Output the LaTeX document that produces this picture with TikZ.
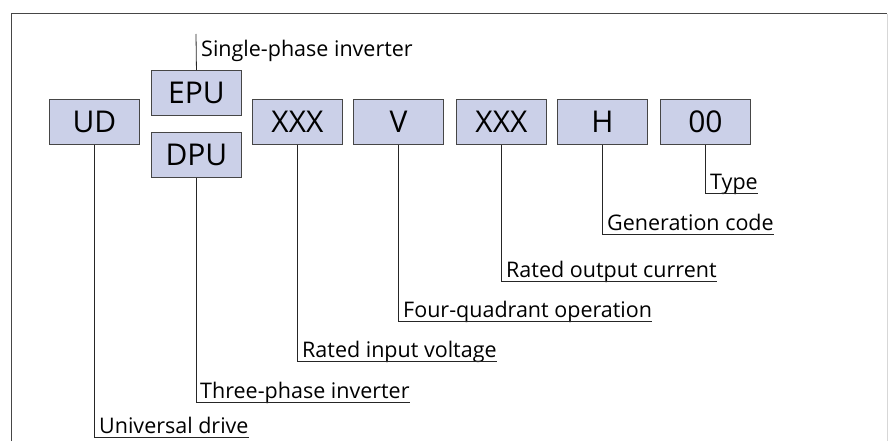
\documentclass[tikz,border=0pt]{standalone}
\usepackage{fontspec}
\setmainfont{Open Sans}
\definecolor{boxfill}{RGB}{203,208,232}
\definecolor{boxline}{RGB}{70,70,70}
\definecolor{frameline}{RGB}{70,70,70}
\definecolor{frameright}{RGB}{215,215,215}
\begin{document}
\begin{tikzpicture}[x=1pt,y=-1pt,
  codebox/.style={draw=boxline, line width=0.9pt, fill=boxfill, minimum width=90pt, minimum height=45pt, inner sep=0pt, font=\fontsize{30}{32}\selectfont, anchor=north west},
  lbl/.style={anchor=south west, inner xsep=0pt, inner ysep=3pt, text depth=0pt, font=\fontsize{21.5}{23}\selectfont, text=black},
  conn/.style={draw=black!85, line width=0.8pt}]
\useasboundingbox (0,0) rectangle (890,441);
\draw[frameline, line width=1pt] (11,441) -- (11,14) -- (887,14);
\draw[frameright, line width=1pt] (887,14) -- (887,441);
\node[codebox] (ud) at (49,99) {UD};
\node[codebox] (epu) at (151,70) {EPU};
\node[codebox] (dpu) at (151,132) {DPU};
\node[codebox] (xa) at (252,99) {XXX};
\node[codebox] (v) at (353,99) {V};
\node[codebox] (xb) at (456,99) {XXX};
\node[codebox] (h) at (557,99) {H};
\node[codebox] (oo) at (660,99) {00};
\coordinate (ct) at (196,34);
\node[lbl, anchor=base west] (lsp) at (201,57) {Single-phase inverter};
\draw[conn] (epu.north) -- (ct);
\node[lbl] (lud) at (99,437) {Universal drive};
\node[lbl] (ldpu) at (200,402) {Three-phase inverter};
\node[lbl] (lxa) at (302,361) {Rated input voltage};
\node[lbl] (lv) at (403,321) {Four-quadrant operation};
\node[lbl] (lxb) at (506,281) {Rated output current};
\node[lbl] (lh) at (607,234) {Generation code};
\node[lbl] (loo) at (710,193) {Type};
\draw[conn] (ud.south) |- (lud.south east);
\draw[conn] (dpu.south) |- (ldpu.south east);
\draw[conn] (xa.south) |- (lxa.south east);
\draw[conn] (v.south) |- (lv.south east);
\draw[conn] (xb.south) |- (lxb.south east);
\draw[conn] (h.south) |- (lh.south east);
\draw[conn] (oo.south) |- (loo.south east);
\end{tikzpicture}
\end{document}
